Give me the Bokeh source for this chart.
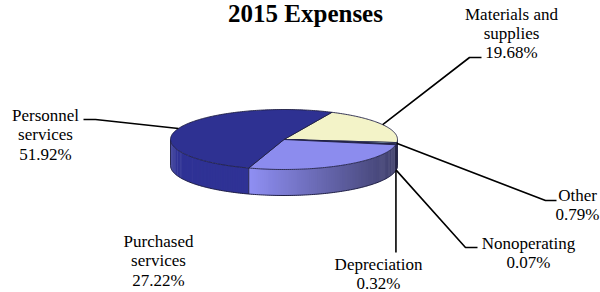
import math
import numpy as np
from bokeh.plotting import figure
from bokeh.models import Range1d
from bokeh.core.properties import value
from bokeh.embed import file_html
from bokeh.resources import INLINE

# ---------------- data ----------------
title = "2015 Expenses"
categories = ["Materials and\nsupplies", "Other", "Nonoperating", "Depreciation",
              "Purchased\nservices", "Personnel\nservices"]
shares = [19.68, 0.79, 0.07, 0.32, 27.22, 51.92]
colors = ["#F3F3C8", "#CCFFFF", "#660066", "#FF8080", "#8C8CEE", "#2E3192"]

# ---------------- layout / style ----------------
W, H = 600, 292
cx, cy, rx, ry, depth = 283.5, 139.0, 113.5, 30.0, 26.0
start_angle = 65.0
outline = "#202045"
font = "Liberation Serif"
line_step = 19.3
txt_shift = -5.0      # compensates the renderer's baseline placement
# per label: text centre x, first baseline y, anchor mode, leader elbow points
label_layout = [
    (511, 18.5, "top", [(469, 57), (481, 57)]),
    (577, 199.5, "top", [(545, 200), (556, 200)]),
    (528, 247.5, "bottom", [(465, 247), (477, 247)]),
    (378, 269.0, "bottom", [("ax", 252)]),
    (158, 246.0, None, []),
    (45, 120.0, "top", [(95, 119), (83, 119)]),
]

p = figure(width=W, height=H, x_range=Range1d(0, W), y_range=Range1d(H, 0),
           output_backend="svg", toolbar_location=None, min_border=0)
p.axis.visible = False
p.grid.visible = False
p.outline_line_color = None
p.background_fill_color = "white"


def shade(hexcol, f):
    hexcol = hexcol.lstrip("#")
    r, g, b = (int(hexcol[i:i + 2], 16) for i in (0, 2, 4))
    return "#%02x%02x%02x" % tuple(max(0, min(255, int(round(c * f)))) for c in (r, g, b))


def px(t):
    return cx + rx * math.cos(math.radians(t))


def py(t):
    return cy - ry * math.sin(math.radians(t))


total = sum(shares)
bounds = []
a = start_angle
for s in shares:
    b = a - 360.0 * s / total
    bounds.append((a, b))
    a = b

# ---------------- side faces (front half) ----------------
sx, sy, sc = [], [], []
front_edges = []
for (a, b), col in zip(bounds, colors):
    for k in (-1, 0, 1):
        lo = max(b, -180 + 360 * k)
        hi = min(a, 360 * k)
        if hi <= lo:
            continue
        n = max(1, int(math.ceil((hi - lo) / 1.0)))
        ts = np.linspace(lo, hi, n + 1)
        for t0, t1 in zip(ts[:-1], ts[1:]):
            t1e = min(hi, t1 + 0.6)  # slight overlap hides seams
            xs = [px(t0), px(t1e), px(t1e), px(t0)]
            ys = [py(t0), py(t1e), py(t1e) + depth, py(t0) + depth]
            u = math.cos(math.radians((t0 + t1) / 2))
            f = 1.02 if u < -0.3 else 1.02 - 0.57 * (u + 0.3) / 1.3
            sx.append(xs); sy.append(ys); sc.append(shade(col, f))
        front_edges += [lo, hi]

p.patches(sx, sy, fill_color=sc, line_color=None)

# side outlines
tb = np.linspace(-180, 0, 181)
p.line([px(t) for t in tb], [py(t) + depth for t in tb], line_color=outline, line_width=1)
ex, ey = [], []
for t in sorted(set(round(v, 4) for v in front_edges)):
    ex.append([px(t), px(t)]); ey.append([py(t), py(t) + depth])
p.multi_line(ex, ey, line_color=outline, line_width=0.9)

# ---------------- top faces ----------------
tx, ty = [], []
for (a, b) in bounds:
    n = max(2, int(math.ceil((a - b) / 1.0)))
    ts = np.linspace(a, b, n + 1)
    tx.append([cx] + [px(t) for t in ts])
    ty.append([cy] + [py(t) for t in ts])
p.patches(tx, ty, fill_color=colors, line_color=outline, line_width=0.9)

# ---------------- labels & leader lines ----------------
for (a, b), cat, s, lay in zip(bounds, categories, shares, label_layout):
    x0, y0, mode, elbows = lay
    lines = cat.split("\n") + [f"{s:.2f}%"]
    for i, ln in enumerate(lines):
        p.text(x=[x0], y=[y0 + i * line_step + txt_shift], text=[ln], text_font=value(font),
               text_font_size="17px", text_align="center", text_baseline="alphabetic",
               text_color="black")
    if mode is None:
        continue
    mid = (a + b) / 2
    axp, ayp = px(mid), py(mid)
    if mode == "bottom":
        ayp += depth
    lx, ly = [axp], [ayp]
    for ebx, eby in elbows:
        lx.append(axp if ebx == "ax" else ebx)
        ly.append(eby)
    p.line(lx, ly, line_color="black", line_width=1.6)

p.text(x=[305], y=[13], text=[title], text_font=value(font), text_font_size="25px",
       text_font_style="bold", text_align="center", text_baseline="alphabetic",
       text_color="black")

open("out.html", "w").write(file_html(p, INLINE))
